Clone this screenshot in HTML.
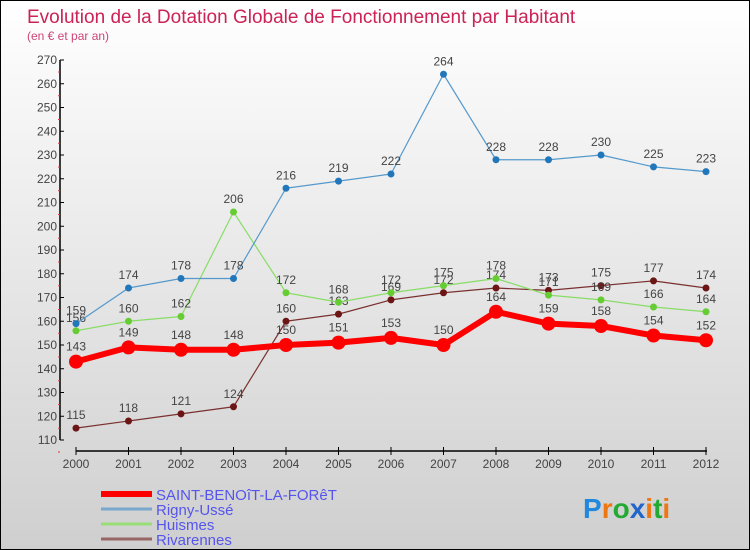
<!DOCTYPE html>
<html><head><meta charset="utf-8">
<style>
html,body{margin:0;padding:0}
body{width:750px;height:550px;overflow:hidden;font-family:"Liberation Sans",sans-serif}
#wrap{position:absolute;left:0;top:0;width:748px;height:548px;border:1px solid #000;background:linear-gradient(#ffffff,#cfcfcf)}
</style></head>
<body>
<div id="wrap">
<svg id="chart" width="748" height="548" style="position:absolute;left:0;top:0">
<text x="26" y="22" font-size="19" fill="#cc2255">Evolution de la Dotation Globale de Fonctionnement par Habitant</text>
<text x="26" y="39" font-size="12" fill="#cc4477">(en € et par an)</text>
<g id="axes"></g><g id="series"></g><g id="legend"></g>
<text x="582" y="517" font-size="28" font-weight="bold"><tspan fill="#2288dd">P</tspan><tspan fill="#ee7711">r</tspan><tspan fill="#22aa33">o</tspan><tspan fill="#2266cc">x</tspan><tspan fill="#ee7711">i</tspan><tspan fill="#22aa33">t</tspan><tspan fill="#ee7711">i</tspan></text>
</svg>
</div>
<script>
const years=[2000,2001,2002,2003,2004,2005,2006,2007,2008,2009,2010,2011,2012];
const yTicks=[110,120,130,140,150,160,170,180,190,200,210,220,230,240,250,260,270];
const saintBenoit=[143,149,148,148,150,151,153,150,164,159,158,154,152];
const rigny=[159,174,178,178,216,219,222,264,228,228,230,225,223];
const huismes=[156,160,162,206,172,168,172,175,178,171,169,166,164];
const rivarennes=[115,118,121,124,160,163,169,172,174,173,175,177,174];
const NS="http://www.w3.org/2000/svg";
function xS(i){return 75+i*52.5;}
function yS(v){return 439-(v-110)*2.375;}
function mk(tag,attrs,parent){const e=document.createElementNS(NS,tag);for(const k in attrs)e.setAttribute(k,attrs[k]);parent.appendChild(e);return e;}
const axes=document.getElementById('axes');
let yl=mk('line',{x1:59,y1:yS(270),x2:59,y2:yS(110),stroke:'#000','stroke-width':1.5},axes);


yTicks.forEach(v=>{
 const y=yS(v);
 const t=mk('line',{x1:59,y1:y,x2:63,y2:y,stroke:'#000'},axes);
 
 
 const tx=mk('text',{x:56,y:y+4,'font-size':12,fill:'#444','text-anchor':'end'},axes);
 tx.textContent=v;
 
 
 const r=mk('line',{x1:57,y1:y+12,x2:59,y2:y+12,stroke:'#e33'},axes);
 
 
});
let xl=mk('line',{x1:75,y1:450,x2:706,y2:450,stroke:'#000','stroke-width':1.5},axes);


years.forEach((yr,i)=>{
 const x=xS(i);
 const t=mk('line',{x1:x,y1:446,x2:x,y2:454,stroke:'#000'},axes);
 
 
 const tx=mk('text',{x:x,y:467,'font-size':12,fill:'#444','text-anchor':'middle'},axes);
 tx.textContent=yr;
 
 
});
const sg=document.getElementById('series');
function drawSeries(vals,color,dot,w,r,name,labelDy){
 const g=mk('g',{},sg);
 
 
 const pl=mk('polyline',{points:vals.map((v,i)=>xS(i)+','+yS(v)).join(' '),fill:'none',stroke:color,'stroke-width':w,'stroke-linejoin':'round'},g);
 
 
 vals.forEach((v,i)=>{
  const c=mk('circle',{cx:xS(i),cy:yS(v),r:r,fill:dot},g);
  
  
  const t=mk('text',{x:xS(i),y:yS(v)+labelDy,'font-size':12,fill:'#444','text-anchor':'middle'},g);
  t.textContent=v;
  
  
 });
}
drawSeries(rivarennes,'#7a3030','#6b1515',1.2,3.5,'rivarennes',-9);
drawSeries(huismes,'#88dd66','#66cc33',1.2,3.5,'huismes',-9);
drawSeries(rigny,'#5599cc','#2277bb',1.2,3.5,'rigny-usse',-9);
drawSeries(saintBenoit,'#ff0000','#ff0000',6,7,'saint-benoit',-11);
const lg=document.getElementById('legend');
const items=[['SAINT-BENOîT-LA-FORêT','#ff0000',6],['Rigny-Ussé','#7aa8cc',3],['Huismes','#99dd77',3],['Rivarennes','#996666',3]];
items.forEach((it,i)=>{
 const y=493+i*15;
 const l=mk('line',{x1:100,y1:y,x2:151,y2:y,stroke:it[1],'stroke-width':it[2]},lg);
 
 
 const t=mk('text',{x:155,y:y+6,'font-size':15,fill:'#5555ee'},lg);
 t.textContent=it[0];
 
 
});
</script>
</body></html>
